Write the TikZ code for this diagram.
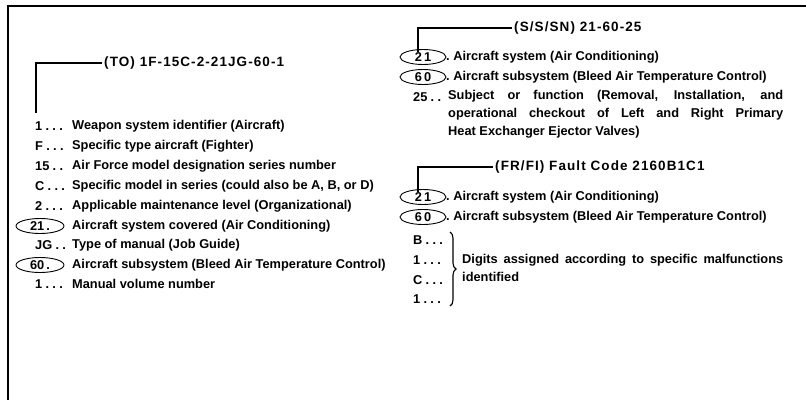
\documentclass[tikz,border=0pt]{standalone}
\usepackage{fontspec}
\setmainfont{Liberation Sans}
\newfontfamily\headfont[LetterSpace=8]{Liberation Sans}
\usepackage{tikz}
\usetikzlibrary{positioning, shapes.geometric, decorations.pathreplacing}

\newcommand{\dt}{\hspace{3.3pt}.}

\tikzset{
  item/.style={anchor=west, inner sep=0pt, font=\bfseries\fontsize{12.8}{14}\selectfont},
  head/.style={anchor=west, inner sep=2pt, font=\headfont\bfseries\fontsize{13.5}{14}\selectfont},
  code/.style={draw, ellipse, line width=0.9pt, minimum width=48pt, minimum height=15pt, inner sep=0pt, font=\bfseries\fontsize{12.8}{14}\selectfont},
  bracket/.style={line width=1.6pt},
}

\begin{document}
\begin{tikzpicture}[x=1pt, y=-1pt]
  \useasboundingbox (0,0) rectangle (806,400);
  % frame
  \draw[line width=2.4pt] (8,400) -- (8,6) -- (806,6);

  % left column: TO number
  \node[head] (tohead) at (102,63) {(TO) 1F-15C-2-21JG-60-1};
  \coordinate (tostem) at (36,113);
  \draw[bracket] (tohead.west) -| (tostem);

  \node[item] (toa) at (35,126) {1\dt\dt\dt};
  \node[item] (toatxt) at (72,126) {Weapon system identifier (Aircraft)};
  \node[item] (tob) at (35,146) {F\dt\dt\dt};
  \node[item] (tobtxt) at (72,146) {Specific type aircraft (Fighter)};
  \node[item] (toc) at (35,166) {15\dt\dt};
  \node[item] (toctxt) at (72,166) {Air Force model designation series number};
  \node[item] (tod) at (35,186) {C\dt\dt\dt};
  \node[item] (todtxt) at (72,186) {Specific model in series (could also be A, B, or D)};
  \node[item] (toe) at (35,206) {2\dt\dt\dt};
  \node[item] (toetxt) at (72,206) {Applicable maintenance level (Organizational)};
  \node[code] (tof) at (40,226) {21\,.};
  \node[item] (toftxt) at (72,226) {Aircraft system covered (Air Conditioning)};
  \node[item] (tog) at (35,245) {JG\dt\dt};
  \node[item] (togtxt) at (72,245) {Type of manual (Job Guide)};
  \node[code] (toh) at (40,265) {60\,.};
  \node[item] (tohtxt) at (72,265) {Aircraft subsystem (Bleed Air Temperature Control)};
  \node[item] (toi) at (35,284) {1\dt\dt\dt};
  \node[item] (toitxt) at (72,284) {Manual volume number};

  % right column: S/S/SN number
  \node[head] (snhead) at (512,28) {(S/S/SN) 21-60-25};
  \coordinate (snstem) at (418,52);
  \draw[bracket] (snhead.west) -| (snstem);

  \node[code, minimum width=46pt] (sna) at (423,57) {2\,1};
  \node[item] (snatxt) at (446,57) {.\ Aircraft system (Air Conditioning)};
  \node[code, minimum width=46pt] (snb) at (423,77) {6\,0};
  \node[item] (snbtxt) at (446,77) {.\ Aircraft subsystem (Bleed Air Temperature Control)};
  \node[item] (snc) at (413,97) {25\dt\dt};
  \node[item, anchor=north west, align=left, font=\bfseries\fontsize{12.8}{18}\selectfont] (snctxt) at (448,90)
    {\makebox[335pt][s]{Subject or function (Removal, Installation, and}\\
     \makebox[335pt][s]{operational checkout of Left and Right Primary}\\
     Heat Exchanger Ejector Valves)};

  % right column: fault code
  \node[head] (frhead) at (493,167) {(FR/FI) Fault Code 2160B1C1};
  \coordinate (frstem) at (418,192);
  \draw[bracket] (frhead.west) -| (frstem);

  \node[code, minimum width=46pt] (fra) at (423,197) {2\,1};
  \node[item] (fratxt) at (446,197) {.\ Aircraft system (Air Conditioning)};
  \node[code, minimum width=46pt] (frb) at (423,217) {6\,0};
  \node[item] (frbtxt) at (446,217) {.\ Aircraft subsystem (Bleed Air Temperature Control)};
  \node[item] (frc) at (413,240) {B\dt\dt\dt};
  \node[item] (frd) at (413,260) {1\dt\dt\dt};
  \node[item] (fre) at (413,280) {C\dt\dt\dt};
  \node[item] (frf) at (413,299) {1\dt\dt\dt};
  \coordinate (bracetop) at (450,232);
  \coordinate (bracebot) at (450,306);
  \draw[line width=1.1pt, decorate, decoration={brace, amplitude=6pt}] (bracetop) -- (bracebot);
  \node[item, anchor=north west, align=left, font=\bfseries\fontsize{12.8}{18}\selectfont] (frtxt) at (462,254)
    {\makebox[321pt][s]{Digits assigned according to specific malfunctions}\\
     identified};
\end{tikzpicture}
\end{document}
